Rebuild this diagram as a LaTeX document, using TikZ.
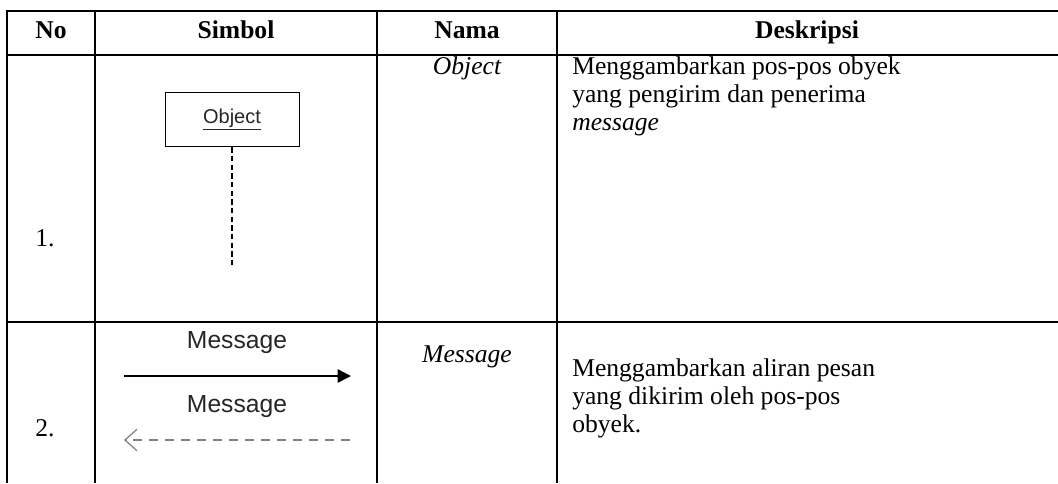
\documentclass[tikz,border=0pt]{standalone}
\usepackage{fontspec}
\setmainfont{Liberation Serif}
\newfontfamily\arialfont{Liberation Sans}
\usetikzlibrary{arrows.meta}

\begin{document}
\begin{tikzpicture}[x=0.75pt,y=-0.75pt,
  rule/.style={line width=2.1pt},
  thinrule/.style={line width=1.6pt},
  head/.style={font=\fontsize{19.2}{22}\selectfont\bfseries,inner sep=0pt,anchor=base},
  cell/.style={font=\fontsize{19.2}{21}\selectfont,inner sep=0pt,anchor=base},
  desc/.style={cell,align=left,anchor=base west},
  sym/.style={font=\arialfont\fontsize{15}{17}\selectfont,text=black!85,inner sep=0pt},
  lifebox/.style={draw,line width=0.7pt,minimum width=100.5pt,minimum height=41pt,sym}]
  \useasboundingbox (0,0) rectangle (1058,483);
  % table rules
  \draw[rule] (7,11) -- (1058,11);
  \draw[rule] (7,55) -- (1058,55);
  \draw[rule] (7,322) -- (110,322);
  \draw[thinrule] (110,322) -- (1058,322);
  \foreach \x in {7,95,377,557}
    \draw[rule] (\x,10) -- (\x,483);
  % header
  \node[head] (hno) at (51,38) {No};
  \node[head] (hsim) at (236,38) {Simbol};
  \node[head] (hnam) at (467,38) {Nama};
  \node[head] (hdes) at (807,38) {Deskripsi};
  % (1) object
  \node[cell] (n1) at (45,246) {1.};
  \node[lifebox] (obj) at (232,119.5) {\underline{Object}};
  \coordinate (life) at (232,265);
  \draw[line width=0.8pt,dash pattern=on 4pt off 2.5pt] (obj.south) -- (life);
  \node[cell] (nam1) at (467,74) {\itshape Object};
  % base of a wrapped node = its last line
  \node[desc] (des1) at (572,130) {Menggambarkan pos-pos obyek\\yang pengirim dan penerima\\\textit{message}};
  % (2) message
  \node[cell] (n2) at (45,436) {2.};
  \node[sym,font=\arialfont\fontsize{18.5}{20}\selectfont] (msg1) at (237,343) {Message};
  \coordinate (m1a) at (124,376);
  \coordinate (m1b) at (351,376);
  \draw[line width=1.1pt,-{Triangle[length=10pt,width=10pt]}] (m1a) -- (m1b);
  \node[sym,font=\arialfont\fontsize{18.5}{20}\selectfont] (msg2) at (237,407) {Message};
  \coordinate (m2a) at (350,440);
  \coordinate (m2b) at (124,440);
  \draw[gray,line width=0.9pt,dash pattern=on 7pt off 5pt,-{Straight Barb[length=9pt,width=16pt]}] (m2a) -- (m2b);
  \node[cell] (nam2) at (467,362) {\itshape Message};
  \node[desc] (des2) at (572,432) {Menggambarkan aliran pesan\\yang dikirim oleh pos-pos\\obyek.};
\end{tikzpicture}
\end{document}
